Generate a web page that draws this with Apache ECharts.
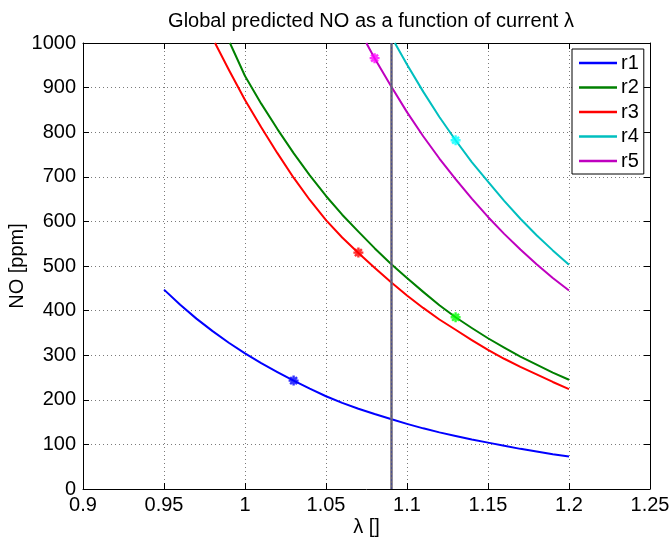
<!DOCTYPE html>
<html>
<head>
<meta charset="utf-8">
<script src="https://cdn.jsdelivr.net/npm/echarts@6/dist/echarts.min.js"></script>
<style>
html,body{margin:0;padding:0;background:#fff;}
#chart{width:671px;height:538px;}
</style>
</head>
<body>
<div id="chart"></div>
<script>
// ---- data ----
const seriesNames = ['r1', 'r2', 'r3', 'r4', 'r5'];

const r1Lambda = [0.95,0.96,0.97,0.98,0.99,1.00,1.01,1.02,1.03,1.04,1.05,1.06,1.07,1.08,1.09,1.10,1.11,1.12,1.13,1.14,1.15,1.16,1.17,1.18,1.19,1.20];
const r1NO     = [447,413,382,354,328,304,282,262,243,225,208,193,180,168,157,146,136,127,119,111,104,97,90,84,78,73];

const r2Lambda = [0.9907,1.00,1.01,1.02,1.03,1.04,1.05,1.06,1.07,1.08,1.09,1.10,1.11,1.12,1.13,1.14,1.15,1.16,1.17,1.18,1.19,1.20];
const r2NO     = [1000,926,864,807,753,703,657,615,577,540,505,473,442,412,385,361,338,317,297,279,261,245];

const r3Lambda = [0.9815,0.99,1.00,1.01,1.02,1.03,1.04,1.05,1.06,1.07,1.08,1.09,1.10,1.11,1.12,1.13,1.14,1.15,1.16,1.17,1.18,1.19,1.20];
const r3NO     = [1000,940,872,811,753,698,648,603,564,529,496,464,434,406,380,357,334,312,292,274,257,240,224];

const r4Lambda = [1.0925,1.10,1.11,1.12,1.13,1.14,1.15,1.16,1.17,1.18,1.19,1.20];
const r4NO     = [1000,952,891,834,782,733,689,646,606,569,535,503];

const r5Lambda = [1.0749,1.08,1.09,1.10,1.11,1.12,1.13,1.14,1.15,1.16,1.17,1.18,1.19,1.20];
const r5NO     = [1000,966,904,845,791,741,695,651,610,572,537,504,473,445];

const markerLambda = [1.03, 1.13, 1.07, 1.13, 1.08];
const markerNO     = [243, 385, 530, 782, 966];

const currentLambda = 1.0875;

const xTicks = [0.9, 0.95, 1, 1.05, 1.1, 1.15, 1.2, 1.25];
const yTicks = [0, 100, 200, 300, 400, 500, 600, 700, 800, 900, 1000];

// ---- styling ----
const lineColors   = ['#0000ff', '#008000', '#ff0000', '#00bfbf', '#bf00bf'];
const markerColors = ['#0000ff', '#00ff00', '#ff0000', '#00ffff', '#ff00ff'];
const FONT = 'Liberation Sans, Arial, Helvetica, sans-serif';
const asterisk = 'path://M-1.2,-5L1.2,-5L1.2,5L-1.2,5Z M-5,-1.2L5,-1.2L5,1.2L-5,1.2Z M-2.6,-4.3L4.3,2.6L2.6,4.3L-4.3,-2.6Z M2.6,-4.3L4.3,-2.6L-2.6,4.3L-4.3,2.6Z';

const lambdas = [r1Lambda, r2Lambda, r3Lambda, r4Lambda, r5Lambda];
const values  = [r1NO, r2NO, r3NO, r4NO, r5NO];

function pairs(xs, ys) { return xs.map((x, i) => [x, ys[i]]); }

const series = seriesNames.map((name, k) => ({
  name: name,
  type: 'line',
  data: pairs(lambdas[k], values[k]),
  symbol: 'none',
  smooth: false,
  clip: true,
  lineStyle: { color: lineColors[k], width: 2, join: 'round' },
  itemStyle: { color: lineColors[k] },
  z: 3
}));

// vertical line at the current lambda
series[0].markLine = {
  silent: true,
  symbol: ['none', 'none'],
  label: { show: false },
  lineStyle: { color: '#6e6676', width: 2.5, type: 'solid' },
  data: [{ xAxis: currentLambda }],
  animation: false
};
series.push({
  type: 'line',
  data: [],
  markLine: {
    silent: true,
    symbol: ['none', 'none'],
    label: { show: false },
    lineStyle: { color: '#4a5090', width: 1, type: [2, 2] },
    data: [{ xAxis: currentLambda }],
    animation: false
  },
  z: 4
});

series.push({
  type: 'scatter',
  symbol: asterisk,
  symbolSize: 10,
  data: markerLambda.map((x, i) => ({ value: [x, markerNO[i]], itemStyle: { color: markerColors[i] } })),
  z: 5
});

function fmtX(v) { return String(parseFloat(v.toFixed(2))); }
function fmtY(v) { return String(Math.round(v)); }

const chart = echarts.init(document.getElementById('chart'), null, { renderer: 'canvas' });
chart.setOption({
  animation: false,
  backgroundColor: '#ffffff',
  textStyle: { fontFamily: FONT },
  title: {
    text: 'Global predicted NO as a function of current λ',
    left: 366,
    textAlign: 'center',
    top: 6,
    textStyle: { fontFamily: FONT, fontSize: 20, fontWeight: 'normal', color: '#000', lineHeight: 20 }
  },
  legend: {
    data: seriesNames,
    orient: 'vertical',
    left: 572,
    top: 49,
    padding: [4, 5, 3, 7],
    itemWidth: 38,
    itemHeight: 2.5,
    itemGap: 4.5,
    icon: 'rect',
    backgroundColor: '#ffffff',
    borderColor: '#000000',
    borderWidth: 1,
    borderRadius: 0,
    textStyle: { fontFamily: FONT, fontSize: 20, color: '#000', lineHeight: 20, padding: [0, 0, 0, -1] },
    selectedMode: false
  },
  grid: { left: 83, right: 21, top: 43, bottom: 49, containLabel: false, outerBoundsMode: 'none' },
  xAxis: [{
    type: 'value',
    min: xTicks[0],
    max: xTicks[xTicks.length - 1],
    interval: 0.05,
    name: 'λ []',
    nameLocation: 'middle',
    nameGap: 28,
    nameMoveOverlap: false,
    nameTextStyle: { fontFamily: FONT, fontSize: 20, color: '#000' },
    axisLine: { show: true, onZero: false, lineStyle: { color: '#000', width: 1 } },
    axisTick: { show: true, inside: true, length: 6, lineStyle: { color: '#000' } },
    axisLabel: { fontFamily: FONT, fontSize: 20, color: '#000', margin: 6, formatter: fmtX, showMinLabel: true, showMaxLabel: true, hideOverlap: false },
    splitLine: { show: true, lineStyle: { color: '#7a7a7a', width: 1, type: [1, 3] } }
  }, {
    type: 'value',
    position: 'top',
    min: xTicks[0],
    max: xTicks[xTicks.length - 1],
    interval: 0.05,
    axisLine: { show: true, onZero: false, lineStyle: { color: '#000', width: 1 } },
    axisTick: { show: true, inside: true, length: 6, lineStyle: { color: '#000' } },
    axisLabel: { show: false },
    splitLine: { show: false }
  }],
  yAxis: [{
    type: 'value',
    min: yTicks[0],
    max: yTicks[yTicks.length - 1],
    interval: 100,
    name: 'NO [ppm]',
    nameLocation: 'middle',
    nameGap: 56,
    nameMoveOverlap: false,
    nameTextStyle: { fontFamily: FONT, fontSize: 20, color: '#000' },
    axisLine: { show: true, onZero: false, lineStyle: { color: '#000', width: 1 } },
    axisTick: { show: true, inside: true, length: 6, lineStyle: { color: '#000' } },
    axisLabel: { fontFamily: FONT, fontSize: 20, color: '#000', margin: 7, formatter: fmtY, hideOverlap: false },
    splitLine: { show: true, lineStyle: { color: '#7a7a7a', width: 1, type: [1, 3] } }
  }, {
    type: 'value',
    position: 'right',
    min: yTicks[0],
    max: yTicks[yTicks.length - 1],
    interval: 100,
    axisLine: { show: true, onZero: false, lineStyle: { color: '#000', width: 1 } },
    axisTick: { show: true, inside: true, length: 6, lineStyle: { color: '#000' } },
    axisLabel: { show: false },
    splitLine: { show: false }
  }],
  series: series
});
</script>
</body>
</html>
